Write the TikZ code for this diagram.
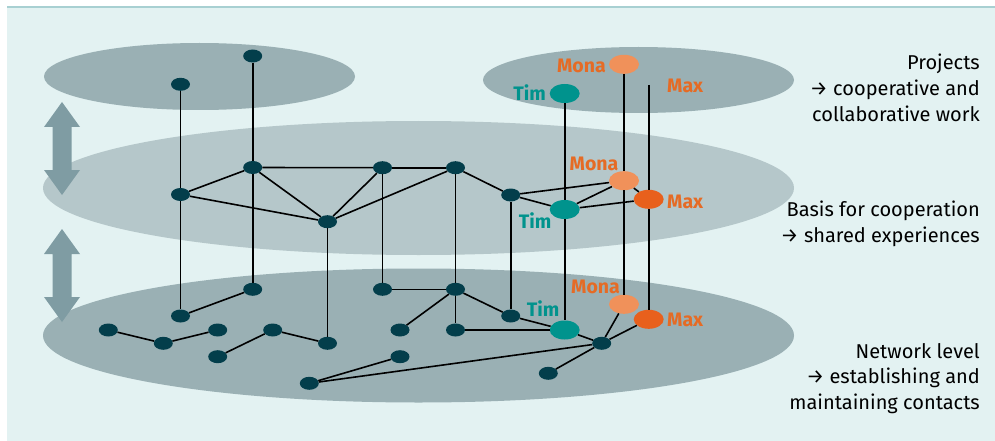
\documentclass[tikz,border=0pt]{standalone}
\usepackage{fontspec}
\setmainfont{Fira Sans}
\usetikzlibrary{shapes.geometric}
\definecolor{bgcyan}{HTML}{E3F2F2}
\definecolor{topline}{HTML}{A8D0D2}
\definecolor{layerdark}{HTML}{9AB0B4}
\definecolor{layerlight}{HTML}{B5C7CA}
\definecolor{updown}{HTML}{7F9CA3}
\definecolor{nodedark}{HTML}{033E4B}
\definecolor{timteal}{HTML}{00938D}
\definecolor{monaorange}{HTML}{F0915A}
\definecolor{maxorange}{HTML}{E8601C}
\definecolor{labelorange}{HTML}{E56B25}
\begin{document}
\begin{tikzpicture}[x=1pt,y=-1pt,
  person/.style={ellipse,inner sep=0pt,minimum width=19pt,minimum height=13pt,fill=nodedark},
  keyperson/.style={ellipse,inner sep=0pt,minimum width=30pt,minimum height=19pt},
  tie/.style={line width=1.6pt,black},
  namelabel/.style={inner sep=0pt,font=\fontsize{19.5}{21}\selectfont\bfseries},
  levelnote/.style={inner sep=0pt,align=right,font=\fontsize{20}{25.7}\selectfont}]
\useasboundingbox (0,0) rectangle (995,441);
% page and panel
\fill[white] (0,0) rectangle (995,441);
\fill[bgcyan] (7,7) rectangle (995,441);
\draw[topline,line width=1.5pt] (7,7) -- (995,7);

% the three levels
\fill[layerdark] (199.5,76.5) ellipse [x radius=155.5, y radius=33.5];
\fill[layerdark] (638.5,80) ellipse [x radius=155.5, y radius=33];
\fill[layerlight] (418.5,188) ellipse [x radius=375.5, y radius=67];
\fill[layerdark] (418.5,335.5) ellipse [x radius=375.5, y radius=67];

% up/down arrows between the levels
\foreach \t in {102,229}{
  \fill[updown] (62,\t) -- (80,\t+25) -- (71.5,\t+25) -- (71.5,\t+68) -- (80,\t+68)
    -- (62,\t+93) -- (44,\t+68) -- (52.5,\t+68) -- (52.5,\t+25) -- (44,\t+25) -- cycle;
}

% people: project level
\node[person] (a1) at (180.5,84.3) {};
\node[person] (a2) at (252.7,56) {};
\node[keyperson,fill=timteal] (timA) at (564.7,93.5) {};
\node[keyperson,fill=monaorange] (monaA) at (624,64.3) {};
\coordinate (maxA) at (648.7,85);

% people: cooperation level
\node[person] (b1) at (180.5,194.5) {};
\node[person] (b2) at (252.7,167.5) {};
\node[person] (b3) at (327.5,221.7) {};
\node[person] (b4) at (382.5,167.7) {};
\node[person] (b5) at (455.5,167.7) {};
\node[person] (b6) at (510.7,195) {};
\node[keyperson,fill=timteal] (timB) at (564.7,209.5) {};
\node[keyperson,fill=monaorange] (monaB) at (624,180.7) {};
\node[keyperson,fill=maxorange] (maxB) at (648.7,199.3) {};

% people: network level
\node[person] (c1) at (180.5,316) {};
\node[person] (c2) at (252.7,289.3) {};
\node[person] (c3) at (108.3,330) {};
\node[person] (c4) at (163.3,343.3) {};
\node[person] (c5) at (217.7,330) {};
\node[person] (c6) at (217.7,356.7) {};
\node[person] (c7) at (272.7,330) {};
\node[person] (c8) at (327.5,343.3) {};
\node[person] (c9) at (382.5,289.3) {};
\node[person] (c10) at (455.5,289.3) {};
\node[person] (c11) at (400,330) {};
\node[person] (c12) at (455.5,330) {};
\node[person] (c13) at (400,356.7) {};
\node[person] (c14) at (510.7,316) {};
\node[person] (c15) at (309.3,383.3) {};
\node[person] (c16) at (601.7,343.3) {};
\node[person] (c17) at (548.3,373.3) {};
\node[keyperson,fill=timteal] (timC) at (564.7,330) {};
\node[keyperson,fill=monaorange] (monaC) at (624,304.3) {};
\node[keyperson,fill=maxorange] (maxC) at (648.7,319.3) {};

% ties between people
\draw[tie] (a1) -- (b1) -- (c1);
\draw[tie] (a2) -- (b2) -- (c2);
\draw[tie] (b3) -- (c8);
\draw[tie] (b4) -- (c9);
\draw[tie] (b5) -- (c10);
\draw[tie] (b6) -- (c14);
\draw[tie] (timA) -- (timB) -- (timC);
\draw[tie] (monaA) -- (monaB) -- (monaC);
\draw[tie] (maxA) -- (maxB) -- (maxC);
\draw[tie] (b1) -- (b2);
\draw[tie] (b1) -- (b3);
\draw[tie] (b2) -- (b4);
\draw[tie] (b2) -- (b3);
\draw[tie] (b3) -- (b4);
\draw[tie] (b3) -- (b5);
\draw[tie] (b4) -- (b5);
\draw[tie] (b5) -- (b6);
\draw[tie] (b6) -- (monaB);
\draw[tie] (b6) -- (timB);
\draw[tie] (timB) -- (monaB);
\draw[tie] (timB) -- (maxB);
\draw[tie] (monaB) -- (maxB);
\draw[tie] (c1) -- (c2);
\draw[tie] (c3) -- (c4) -- (c5);
\draw[tie] (c6) -- (c7) -- (c8);
\draw[tie] (c9) -- (c10);
\draw[tie] (c10) -- (c11);
\draw[tie] (c10) -- (c12);
\draw[tie] (c10) -- (c14);
\draw[tie] (c12) -- (timC);
\draw[tie] (c14) -- (timC);
\draw[tie] (timC) -- (c16);
\draw[tie] (c16) -- (monaC);
\draw[tie] (c16) -- (maxC);
\draw[tie] (c16) -- (c17);
\draw[tie] (c15) -- (c13);
\draw[tie] (c15) -- (c16);

% names
\node[namelabel,text=labelorange,anchor=east] (lmonaA) at (606,65.5) {Mona};
\node[namelabel,text=timteal,anchor=east] (ltimA) at (546,92.5) {Tim};
\node[namelabel,text=labelorange,anchor=west] (lmaxA) at (667,86) {Max};
\node[namelabel,text=labelorange] (lmonaB) at (594,163.5) {Mona};
\node[namelabel,text=labelorange,anchor=west] (lmaxB) at (667,202) {Max};
\node[namelabel,text=timteal] (ltimB) at (535,221) {Tim};
\node[namelabel,text=labelorange] (lmonaC) at (595.5,286.5) {Mona};
\node[namelabel,text=timteal] (ltimC) at (543,309) {Tim};
\node[namelabel,text=labelorange,anchor=west] (lmaxC) at (667,320) {Max};

% level descriptions
\node[levelnote,anchor=east] (projects) at (980,88) {Projects\\→ cooperative and\\collaborative work};
\node[levelnote,anchor=east] (basis) at (980,223.5) {Basis for cooperation\\→ shared experiences};
\node[levelnote,anchor=east] (network) at (980,378.5) {Network level\\→ establishing and\\maintaining contacts};
\end{tikzpicture}
\end{document}
